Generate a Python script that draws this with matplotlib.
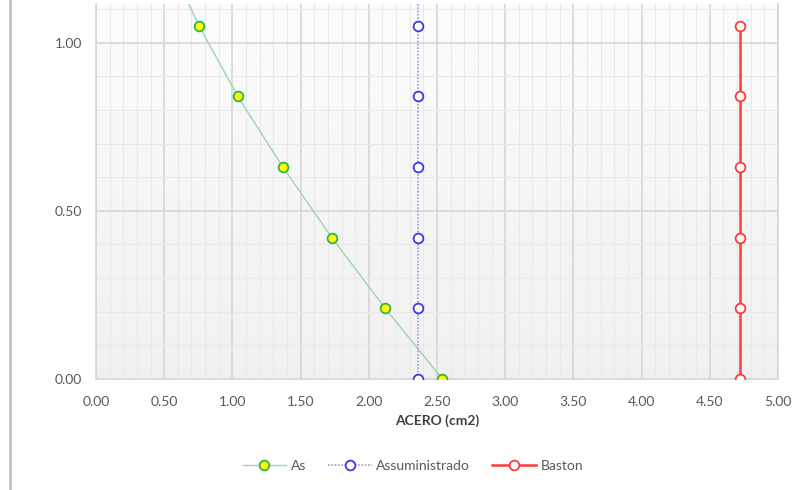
import numpy as np
import matplotlib.pyplot as plt
from matplotlib.lines import Line2D
from matplotlib.ticker import MultipleLocator, FormatStrFormatter

plt.rcParams["font.family"] = ["Lato", "DejaVu Sans"]

# Data (x = steel area, y = position)
as_y = [0.00, 0.21, 0.42, 0.63, 0.84, 1.05, 1.26]
as_x = [2.54, 2.12, 1.73, 1.37, 1.04, 0.755, 0.51]

sum_y = [0.00, 0.21, 0.42, 0.63, 0.84, 1.05, 1.26]
sum_x = [2.36, 2.36, 2.36, 2.36, 2.36, 2.36, 2.36]

baston_y = [0.00, 0.21, 0.42, 0.63, 0.84, 1.05]
baston_x = [4.72, 4.72, 4.72, 4.72, 4.72, 4.72]

labels = ["As", "Assuministrado", "Baston"]

fig = plt.figure(figsize=(8.03, 4.90), dpi=100)
ax = fig.add_axes([96 / 803, 111 / 490, 682 / 803, 375 / 490])

# soft vertical gradient background
grad = np.linspace(0.94, 0.985, 256).reshape(-1, 1)
ax.imshow(grad, cmap="gray", vmin=0, vmax=1, aspect="auto",
          extent=[0, 1, 0, 1], transform=ax.transAxes, zorder=0, origin="lower")

ax.set_xlim(0, 5)
ax.set_ylim(0, 1.115)
ax.xaxis.set_major_locator(MultipleLocator(0.5))
ax.xaxis.set_minor_locator(MultipleLocator(0.1))
ax.yaxis.set_major_locator(MultipleLocator(0.5))
ax.yaxis.set_minor_locator(MultipleLocator(0.1))
ax.xaxis.set_major_formatter(FormatStrFormatter("%.2f"))
ax.yaxis.set_major_formatter(FormatStrFormatter("%.2f"))
ax.grid(which="major", color="#d6d6d6", linewidth=1.2, zorder=1)
ax.grid(which="minor", color="#e9e9e9", linewidth=0.8, zorder=1)
ax.set_axisbelow(True)
ax.tick_params(which="both", length=0, labelsize=10, colors="#595959")
ax.tick_params(axis="x", pad=12)
ax.tick_params(axis="y", pad=10)
for s in ax.spines.values():
    s.set_color("#d6d6d6")
    s.set_linewidth(1.2)
ax.spines["top"].set_visible(False)

ax.plot(as_x, as_y, color="#9fd3b4", linewidth=1.0, marker="o",
        markersize=7, markerfacecolor="#ffff00", markeredgecolor="#2fb34a",
        markeredgewidth=1.3, label=labels[0], zorder=4, clip_on=False)
ax.plot(sum_x, sum_y, color="#9a9ae0", linewidth=1.2, linestyle=(0, (1, 1)),
        marker="o", markersize=7, markerfacecolor="white",
        markeredgecolor="#3a3ae6", markeredgewidth=1.3, label=labels[1],
        zorder=4, clip_on=False)
ax.plot(baston_x, baston_y, color="#ff3b3b", linewidth=1.8, marker="o",
        markersize=7, markerfacecolor="white", markeredgecolor="#ff3b3b",
        markeredgewidth=1.3, label=labels[2], zorder=4, clip_on=False)

# clip the extra segments at the top of the plot area
for ln in ax.lines:
    ln.set_clip_on(True)

ax.set_xlabel("ACERO (cm2)", fontsize=10, fontweight="bold", color="#404040",
              labelpad=5)

leg = fig.legend(loc="center", bbox_to_anchor=(413 / 803, 1 - 466 / 490),
                 ncol=3, frameon=False, fontsize=10, labelcolor="#595959",
                 handlelength=3.1, columnspacing=1.6, handletextpad=0.35)

# left frame line of the chart area
fig.add_artist(Line2D([10 / 803, 10 / 803], [0, 1], color="#bfbfbf",
                      linewidth=2, transform=fig.transFigure))

fig.savefig("out.png", dpi=100)
